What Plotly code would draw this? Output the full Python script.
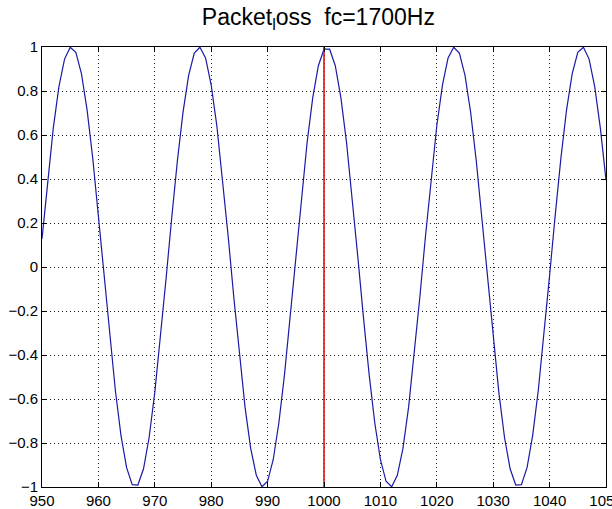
import plotly.graph_objects as go

x_start = 950
y_values = [
    0.128, 0.395, 0.631, 0.820, 0.945, 0.999, 0.976, 0.878, 0.713, 0.494,
    0.237, -0.038, -0.310, -0.559, -0.765, -0.912, -0.989, -0.991, -0.917, -0.774,
    -0.570, -0.323, -0.052, 0.224, 0.482, 0.703, 0.871, 0.972, 0.999, 0.950,
    0.827, 0.642, 0.407, 0.142, -0.135, -0.401, -0.637, -0.824, -0.947, -0.999,
    -0.974, -0.875, -0.708, -0.488, -0.230, 0.045, 0.317, 0.565, 0.769, 0.915,
    0.990,
    0.990, 0.915, 0.769, 0.565, 0.317, 0.045, -0.230, -0.488, -0.708, -0.875,
    -0.974, -0.999, -0.947, -0.824, -0.637, -0.401, -0.135, 0.142, 0.407, 0.642,
    0.827, 0.950, 0.999, 0.972, 0.871, 0.703, 0.482, 0.224, -0.052, -0.323,
    -0.570, -0.774, -0.917, -0.991, -0.989, -0.912, -0.765, -0.559, -0.310, -0.038,
    0.237, 0.494, 0.713, 0.878, 0.976, 0.999, 0.945, 0.820, 0.631, 0.395,
]
x_values = list(range(x_start, x_start + len(y_values)))

marker_x = [1000, 1000]
marker_y = [-1, 1]

x_ticks = [950, 960, 970, 980, 990, 1000, 1010, 1020, 1030, 1040, 1050]
y_ticks = [-1, -0.8, -0.6, -0.4, -0.2, 0, 0.2, 0.4, 0.6, 0.8, 1]
y_tick_text = ["−1", "−0.8", "−0.6", "−0.4", "−0.2", "0", "0.2", "0.4", "0.6", "0.8", "1"]

title_text = "Packet<sub>l</sub>oss  fc=1700Hz"

fig = go.Figure()
fig.add_trace(go.Scatter(x=x_values, y=y_values, mode="lines",
                         line=dict(color="#1a1aa6", width=1.2), showlegend=False))
fig.add_trace(go.Scatter(x=marker_x, y=marker_y, mode="lines",
                         line=dict(color="#e01010", width=1.6), showlegend=False))

tickfont = dict(family="Liberation Sans Narrow, Arial Narrow, Liberation Sans", size=15, color="black")

fig.update_layout(
    width=612, height=509,
    margin=dict(l=42, r=6, t=47, b=22, autoexpand=False),
    paper_bgcolor="white", plot_bgcolor="white",
    title=dict(text=title_text, x=0.49, xanchor="center", xref="paper",
               y=0.966, yanchor="middle", yref="container",
               font=dict(family="Liberation Sans", size=23, color="black")),
    xaxis=dict(range=[950, 1050], tickvals=x_ticks, ticks="inside", ticklen=5,
               tickcolor="black", showline=True, linecolor="black", linewidth=1,
               mirror="ticks", showgrid=True, gridcolor="#222222", griddash="1px,3px",
               gridwidth=1, zeroline=False, tickfont=tickfont, automargin=False,
               ticklabeloverflow="allow"),
    yaxis=dict(range=[-1, 1], tickvals=y_ticks, ticktext=y_tick_text, ticks="inside",
               ticklen=5, tickcolor="black", showline=True, linecolor="black",
               linewidth=1, mirror="ticks", showgrid=True, gridcolor="#222222",
               griddash="1px,3px", gridwidth=1, zeroline=False, tickfont=tickfont,
               automargin=False, ticklabeloverflow="allow"),
)

fig.write_html("out.html", config={"displayModeBar": False},
               post_script="document.body.style.margin='0';")
